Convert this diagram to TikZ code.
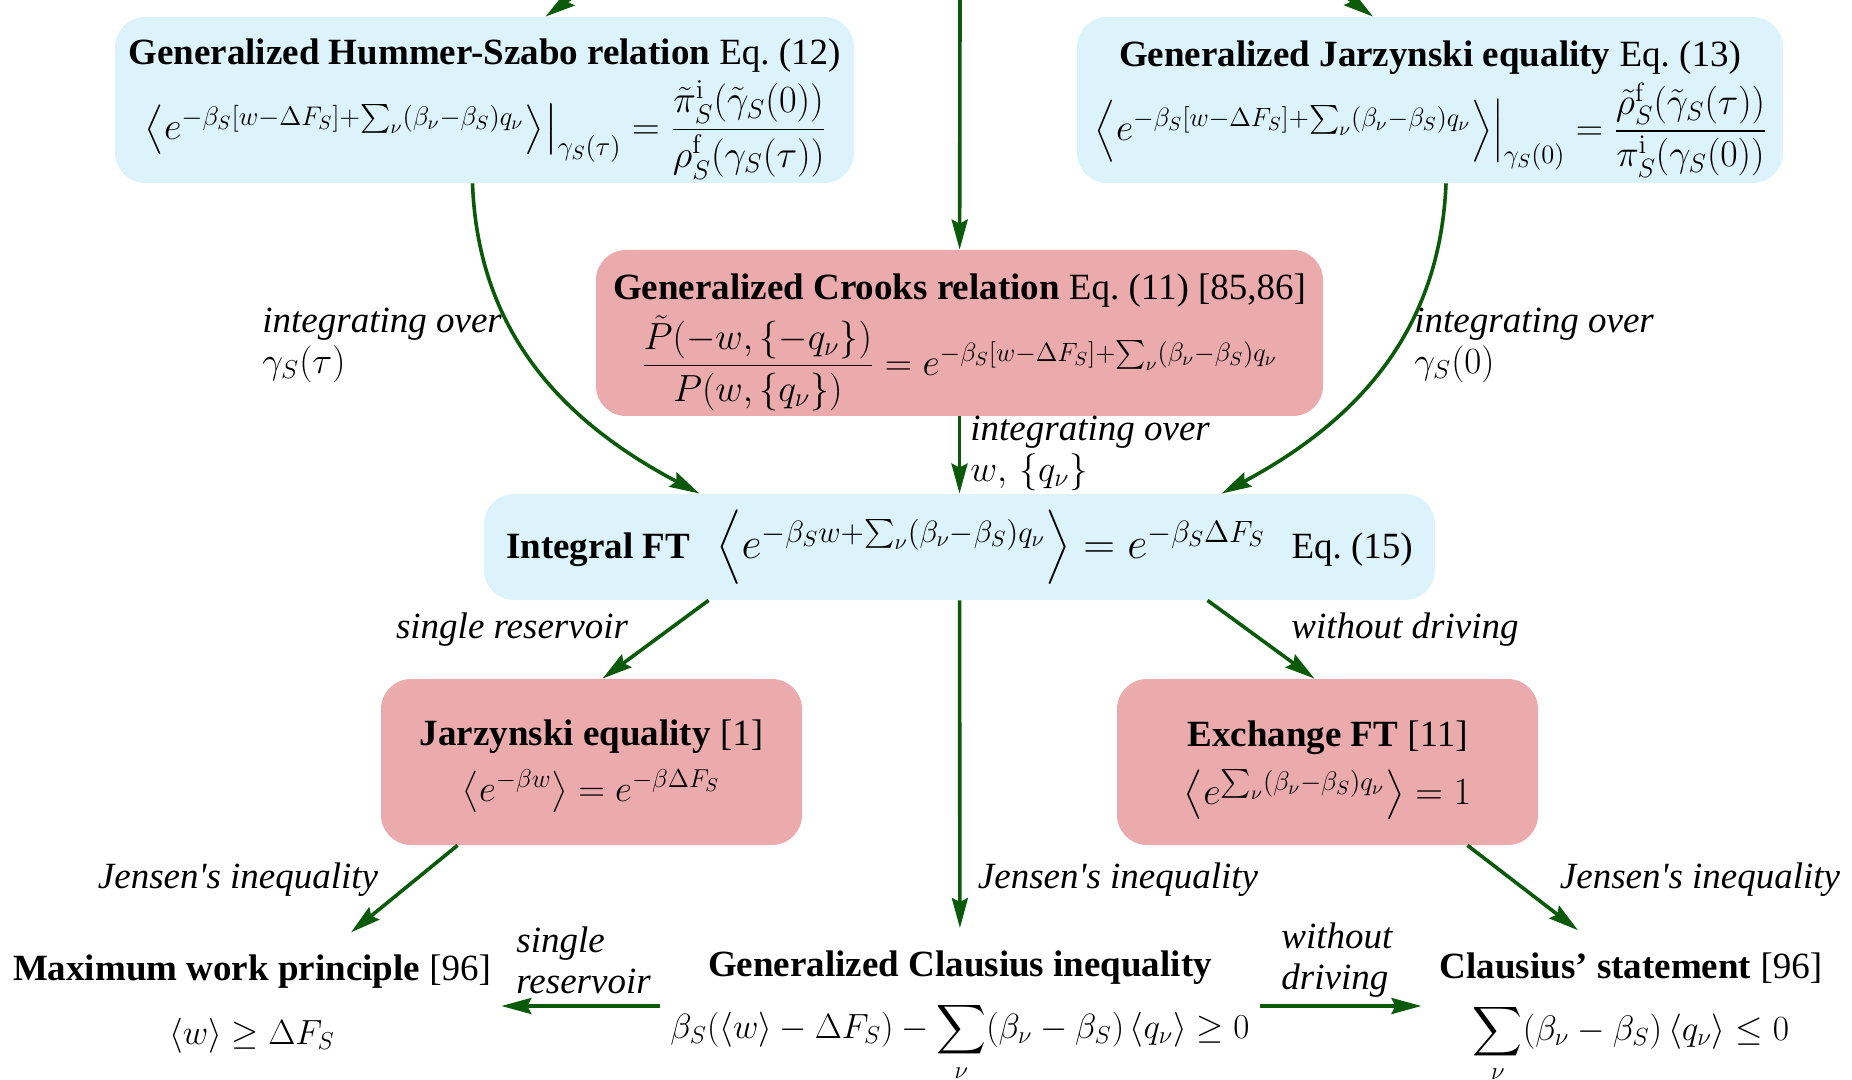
\RequirePackage{fix-cm}
\documentclass[tikz,border=0pt]{standalone}
\usepackage{amsmath}
\usepackage[no-math]{fontspec}
\setmainfont{Liberation Serif}
\usetikzlibrary{arrows.meta,calc,positioning}

\definecolor{ftblue}{RGB}{221,243,252}
\definecolor{ftred}{RGB}{235,170,172}
\definecolor{arrgreen}{RGB}{10,90,10}

% formula at a given size
\newcommand{\fml}[2]{{\fontsize{#1}{#1}\selectfont$#2$}}

\tikzset{
  eqbox/.style={rounded corners=15pt, align=center, inner sep=0pt, font=\fontsize{18.5}{22}\selectfont},
  bluebox/.style={eqbox, fill=ftblue},
  redbox/.style={eqbox, fill=ftred},
  result/.style={align=center, inner sep=11pt, font=\fontsize{18.5}{22}\selectfont},
  lbl/.style={inner sep=0pt, align=left, font=\fontsize{18.5}{20.5}\selectfont\itshape},
  arr/.style={-{Stealth[length=15pt,width=8pt,inset=2pt]}, line width=1.8pt, draw=arrgreen}
}

\begin{document}
\begin{tikzpicture}[x=0.5pt,y=-0.5pt]
  \useasboundingbox (0,0) rectangle (1852,1080);
  % relations
  \node[bluebox, minimum width=369.5pt, minimum height=83pt] (hs) at (484.5,100)
    {\rule{0pt}{22pt}\textbf{Generalized Hummer-Szabo relation} Eq.~(12)\\[3pt]
     \fml{19.2}{\left.\left\langle e^{-\beta_S[w-\Delta F_S]+\sum_\nu(\beta_\nu-\beta_S)q_\nu}\right\rangle\right|_{\gamma_S(\tau)}
      = \dfrac{\tilde\pi^{\mathrm{i}}_S(\tilde\gamma_S(0))}{\rho^{\mathrm{f}}_S(\gamma_S(\tau))}}};
  \node[bluebox, minimum width=353pt, minimum height=83pt] (gj) at (1430,100)
    {\rule{0pt}{22pt}\textbf{Generalized Jarzynski equality} Eq.~(13)\\[3pt]
     \fml{18.9}{\left.\left\langle e^{-\beta_S[w-\Delta F_S]+\sum_\nu(\beta_\nu-\beta_S)q_\nu}\right\rangle\right|_{\gamma_S(0)}
      = \dfrac{\tilde\rho^{\mathrm{f}}_S(\tilde\gamma_S(\tau))}{\pi^{\mathrm{i}}_S(\gamma_S(0))}}};
  \node[redbox, minimum width=363.5pt, minimum height=83pt] (crooks) at (959.5,333)
    {\rule{0pt}{22pt}\textbf{Generalized Crooks relation} Eq.~(11) [85,86]\\[3pt]
     \fml{18.9}{\dfrac{\tilde P(-w,\{-q_\nu\})}{P(w,\{q_\nu\})} = e^{-\beta_S[w-\Delta F_S]+\sum_\nu(\beta_\nu-\beta_S)q_\nu}}};
  \node[bluebox, minimum width=475.5pt, minimum height=53pt] (ift) at (959.5,547)
    {\textbf{Integral FT}\hspace{13pt}%
     \fml{22}{\left\langle e^{-\beta_S w+\sum_\nu(\beta_\nu-\beta_S)q_\nu}\right\rangle = e^{-\beta_S\Delta F_S}}\hspace{13pt}Eq.~(15)};
  \node[redbox, minimum width=210.5pt, minimum height=83pt] (jarz) at (591.5,762)
    {\rule{0pt}{17pt}\textbf{Jarzynski equality} [1]\\[6pt]
     \fml{18.5}{\left\langle e^{-\beta w}\right\rangle = e^{-\beta\Delta F_S}}};
  \node[redbox, minimum width=210.5pt, minimum height=83pt] (exch) at (1327.5,762)
    {\rule{0pt}{21pt}\textbf{Exchange FT} [11]\\[7pt]
     \fml{19.2}{\left\langle e^{\sum_\nu(\beta_\nu-\beta_S)q_\nu}\right\rangle = 1}};
  % inequalities
  \node[result] (maxwork) at (252,1004)
    {\textbf{Maximum work principle} [96]\\[10pt]
     \fml{17.5}{\langle w\rangle \geq \Delta F_S}};
  \node[result] (genclausius) at (960,1016)
    {\textbf{Generalized Clausius inequality}\\[8pt]
     \fml{17.5}{\beta_S(\langle w\rangle-\Delta F_S)-\displaystyle\sum_\nu(\beta_\nu-\beta_S)\left\langle q_\nu\right\rangle \geq 0}};
  \node[result] (clausius) at (1631,1018)
    {\textbf{Clausius’ statement} [96]\\[9pt]
     \fml{17.7}{\displaystyle\sum_\nu(\beta_\nu-\beta_S)\left\langle q_\nu\right\rangle \leq 0}};
  % labels
  \node[lbl, anchor=west] (lbltau) at (262,345) {integrating over\\$\gamma_S(\tau)$};
  \node[lbl, anchor=west] (lblzero) at (1414,345) {integrating over\\$\gamma_S(0)$};
  \node[lbl, anchor=west] (lblwq) at (970,453) {integrating over\\$w,\,\{q_\nu\}$};
  \node[lbl] (lblsingle) at (512,630) {single reservoir};
  \node[lbl] (lbldriving) at (1405,630) {without driving};
  \node[lbl] (lbljl) at (238,880) {Jensen\textquotesingle s inequality};
  \node[lbl] (lbljc) at (1118,880) {Jensen\textquotesingle s inequality};
  \node[lbl] (lbljr) at (1700,880) {Jensen\textquotesingle s inequality};
  \node[lbl, anchor=west] (lblsingle2) at (516,960) {single\\reservoir};
  \node[lbl, anchor=west] (lbldriving2) at (1281,960) {without\\driving};
  % arrows from above
  \coordinate (topl) at (610,-30);
  \coordinate (topc) at (960,0);
  \coordinate (topr) at (1310,-30);
  \draw[arr] (topl) -- ($(hs.north)+(61,0)$);
  \draw[arr] (topc) -- (crooks);
  \draw[arr] (topr) -- ($(gj.north)+(-57,0)$);
  % integrating
  \draw[arr] ($(hs.south)+(-12,0)$) .. controls (478,330) and (560,420) .. ($(ift.north)+(-260,0)$);
  \draw[arr] ($(gj.south)+(16,0)$) .. controls (1440,330) and (1359,420) .. ($(ift.north)+(262,0)$);
  \draw[arr] (crooks) -- (ift);
  % special cases
  \draw[arr] ($(ift.south)+(-251,0)$) -- ($(jarz.north)+(11,0)$);
  \draw[arr] ($(ift.south)+(248,0)$) -- ($(exch.north)+(-13,0)$);
  \draw[arr] (ift) -- (genclausius);
  \draw[arr] ($(jarz.south)+(-134,0)$) -- ($(maxwork.north)+(99,0)$);
  \draw[arr] ($(exch.south)+(140,0)$) -- ($(clausius.north)+(-53,0)$);
  \coordinate (gcwest) at ($(genclausius.west)+(12,-10)$);
  \coordinate (gceast) at ($(genclausius.east)+(-12,-10)$);
  \draw[arr] (gcwest) -- ($(gcwest -| maxwork.east)+(-12,0)$);
  \draw[arr] (gceast) -- ($(gceast -| clausius.west)+(4,0)$);
\end{tikzpicture}
\end{document}
